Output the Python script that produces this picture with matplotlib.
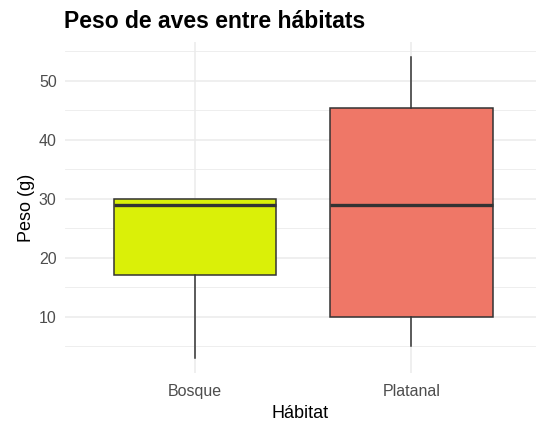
import matplotlib
matplotlib.use("Agg")
import matplotlib.pyplot as plt
from matplotlib.ticker import MultipleLocator

plt.rcParams['font.family'] = ['Liberation Sans', 'DejaVu Sans']

habitats = ["Bosque", "Platanal"]
whis_low = [3, 5]
q1 = [17, 10]
medians = [29, 29]
q3 = [30, 45.3]
whis_high = [30, 54]
colors = ["#DAF008", "#EF7767"]

W, H = 536, 425
fig = plt.figure(figsize=(W / 100, H / 100), dpi=100)
left, right, top, bottom = 65, 536, 42, 373
ax = fig.add_axes([left / W, 1 - bottom / H, (right - left) / W, (bottom - top) / H])

stats = []
for i, h in enumerate(habitats):
    stats.append(dict(label=h, whislo=whis_low[i], q1=q1[i], med=medians[i],
                      q3=q3[i], whishi=whis_high[i], fliers=[]))

bp = ax.bxp(stats, positions=[1, 2], widths=0.75, patch_artist=True, showcaps=False,
            boxprops=dict(edgecolor="#333333", linewidth=1.1),
            whiskerprops=dict(color="#333333", linewidth=1.1),
            medianprops=dict(color="#333333", linewidth=2.4, solid_capstyle='butt'),
            zorder=3)
for patch, c in zip(bp['boxes'], colors):
    patch.set_facecolor(c)

ax.set_xlim(0.4, 0.4 + (right - left) / 216.5)
ax.set_ylim(0.45, 56.55)
ax.yaxis.set_major_locator(MultipleLocator(10))
ax.yaxis.set_minor_locator(MultipleLocator(5))
ax.set_xticks([1, 2])
ax.set_xticklabels(habitats)

ax.grid(True, which='major', color="#EBEBEB", linewidth=1.1, zorder=0)
ax.grid(True, which='minor', axis='y', color="#EBEBEB", linewidth=0.6, zorder=0)
ax.set_axisbelow(True)
for s in ax.spines.values():
    s.set_visible(False)
ax.tick_params(which='both', length=0)
ax.tick_params(axis='x', labelsize=11.5, labelcolor="#4D4D4D", pad=8)
ax.tick_params(axis='y', labelsize=11.5, labelcolor="#4D4D4D", pad=6)

ax.set_xlabel("Hábitat", fontsize=13, color="black", labelpad=4)
ax.set_ylabel("Peso (g)", fontsize=13, color="black", labelpad=3)
fig.text(64 / W, 1 - 28 / H, "Peso de aves entre hábitats", fontsize=16.5,
         fontweight='bold', ha='left', va='baseline')

fig.savefig("out.png", dpi=100)
